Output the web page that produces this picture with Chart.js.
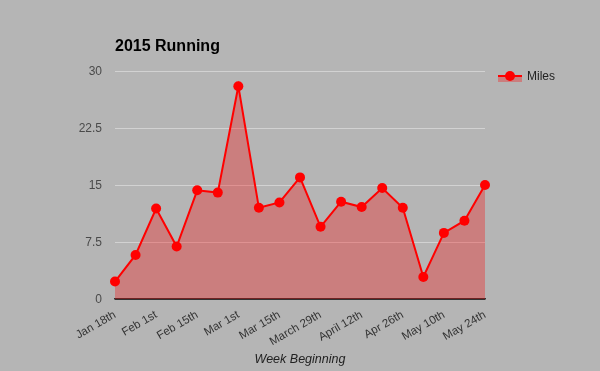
<!DOCTYPE html>
<html>
<head>
<meta charset="utf-8">
<script src="https://cdn.jsdelivr.net/npm/chart.js@4"></script>
<style>
  html, body { margin: 0; padding: 0; background: #b5b5b5; }
  #wrap { width: 600px; height: 371px; position: relative; }
</style>
</head>
<body>
<div id="wrap"><canvas id="c" width="600" height="371"></canvas></div>
<script>
const chartTitle = '2015 Running';
const xAxisTitle = 'Week Beginning';
const seriesName = 'Miles';
const weeks = ['Jan 18th', 'Jan 25th', 'Feb 1st', 'Feb 8th', 'Feb 15th', 'Feb 22nd', 'Mar 1st', 'Mar 8th',
  'Mar 15th', 'Mar 22nd', 'March 29th', 'Apr 5th', 'April 12th', 'Apr 19th', 'Apr 26th', 'May 3rd',
  'May 10th', 'May 17th', 'May 24th'];
const miles = [2.3, 5.8, 11.9, 6.9, 14.3, 14.0, 28.0, 12.0, 12.7, 16.0, 9.5, 12.8, 12.1, 14.6, 12.0, 2.9, 8.7, 10.3, 15.0];
const yTicks = [0, 7.5, 15, 22.5, 30];

const BG = '#b5b5b5';
const RED = '#ff0000';
const FILL = 'rgba(255,0,0,0.30)';
const FONT = "'Liberation Sans', Arial, sans-serif";

const bgPlugin = {
  id: 'bg',
  beforeDraw(chart) {
    const ctx = chart.ctx;
    ctx.save();
    ctx.fillStyle = BG;
    ctx.fillRect(0, 0, chart.width, chart.height);
    ctx.restore();
  }
};

const titleLegendPlugin = {
  id: 'titleLegend',
  afterDraw(chart) {
    const ctx = chart.ctx;
    const area = chart.chartArea;
    ctx.save();
    // title
    ctx.fillStyle = '#000';
    ctx.font = 'bold 16px ' + FONT;
    ctx.textAlign = 'left';
    ctx.textBaseline = 'alphabetic';
    ctx.fillText(chartTitle, area.left, 51);
    // legend
    const ds = chart.data.datasets[0];
    const lx = area.right + 13, ly = 76;
    ctx.fillStyle = ds.backgroundColor;
    ctx.fillRect(lx, ly, 24, 6);
    ctx.strokeStyle = ds.borderColor;
    ctx.lineWidth = 2;
    ctx.beginPath();
    ctx.moveTo(lx, ly);
    ctx.lineTo(lx + 24, ly);
    ctx.stroke();
    ctx.fillStyle = ds.pointBackgroundColor;
    ctx.beginPath();
    ctx.arc(lx + 12, ly, 5, 0, Math.PI * 2);
    ctx.fill();
    ctx.fillStyle = '#222';
    ctx.font = '12px ' + FONT;
    ctx.textBaseline = 'middle';
    ctx.fillText(ds.label, lx + 29, ly + 1);
    ctx.restore();
  }
};

new Chart(document.getElementById('c'), {
  type: 'line',
  data: {
    labels: weeks,
    datasets: [{
      label: seriesName,
      data: miles,
      borderColor: RED,
      backgroundColor: FILL,
      pointBackgroundColor: RED,
      pointBorderColor: RED,
      pointRadius: 5,
      pointBorderWidth: 0,
      borderWidth: 2,
      fill: 'origin',
      tension: 0,
      clip: false
    }]
  },
  options: {
    responsive: false,
    animation: false,
    devicePixelRatio: 1,
    layout: { padding: { left: 0, right: 115, top: 71, bottom: 0 } },
    plugins: {
      legend: { display: false },
      title: { display: false },
      tooltip: { enabled: false }
    },
    scales: {
      x: {
        offset: false,
        grid: { display: false, drawTicks: false },
        border: { display: true, color: '#333', width: 1.5 },
        ticks: {
          autoSkip: false,
          minRotation: 30,
          maxRotation: 30,
          padding: 9,
          color: '#333',
          font: { family: FONT, size: 11.5 },
          callback: function(v, i) { return i % 2 === 0 ? weeks[i] : ''; }
        },
        title: {
          display: true,
          text: xAxisTitle,
          color: '#222',
          font: { family: FONT, size: 12.5, style: 'italic' },
          padding: { top: 6, bottom: 4 }
        },
        afterFit(scale) { scale.height = 72; }
      },
      y: {
        min: 0,
        max: 30,
        afterBuildTicks(scale) { scale.ticks = yTicks.map(v => ({ value: v })); },
        grid: {
          drawTicks: false,
          color: (c) => c.tick && c.tick.value === 0 ? '#333' : '#d2d2d2',
          lineWidth: 1
        },
        border: { display: false },
        ticks: {
          padding: 13,
          labelOffset: 1,
          color: '#4a4a4a',
          font: { family: FONT, size: 12 }
        },
        afterFit(scale) { scale.width = 115; }
      }
    }
  },
  plugins: [bgPlugin, titleLegendPlugin]
});
</script>
</body>
</html>
